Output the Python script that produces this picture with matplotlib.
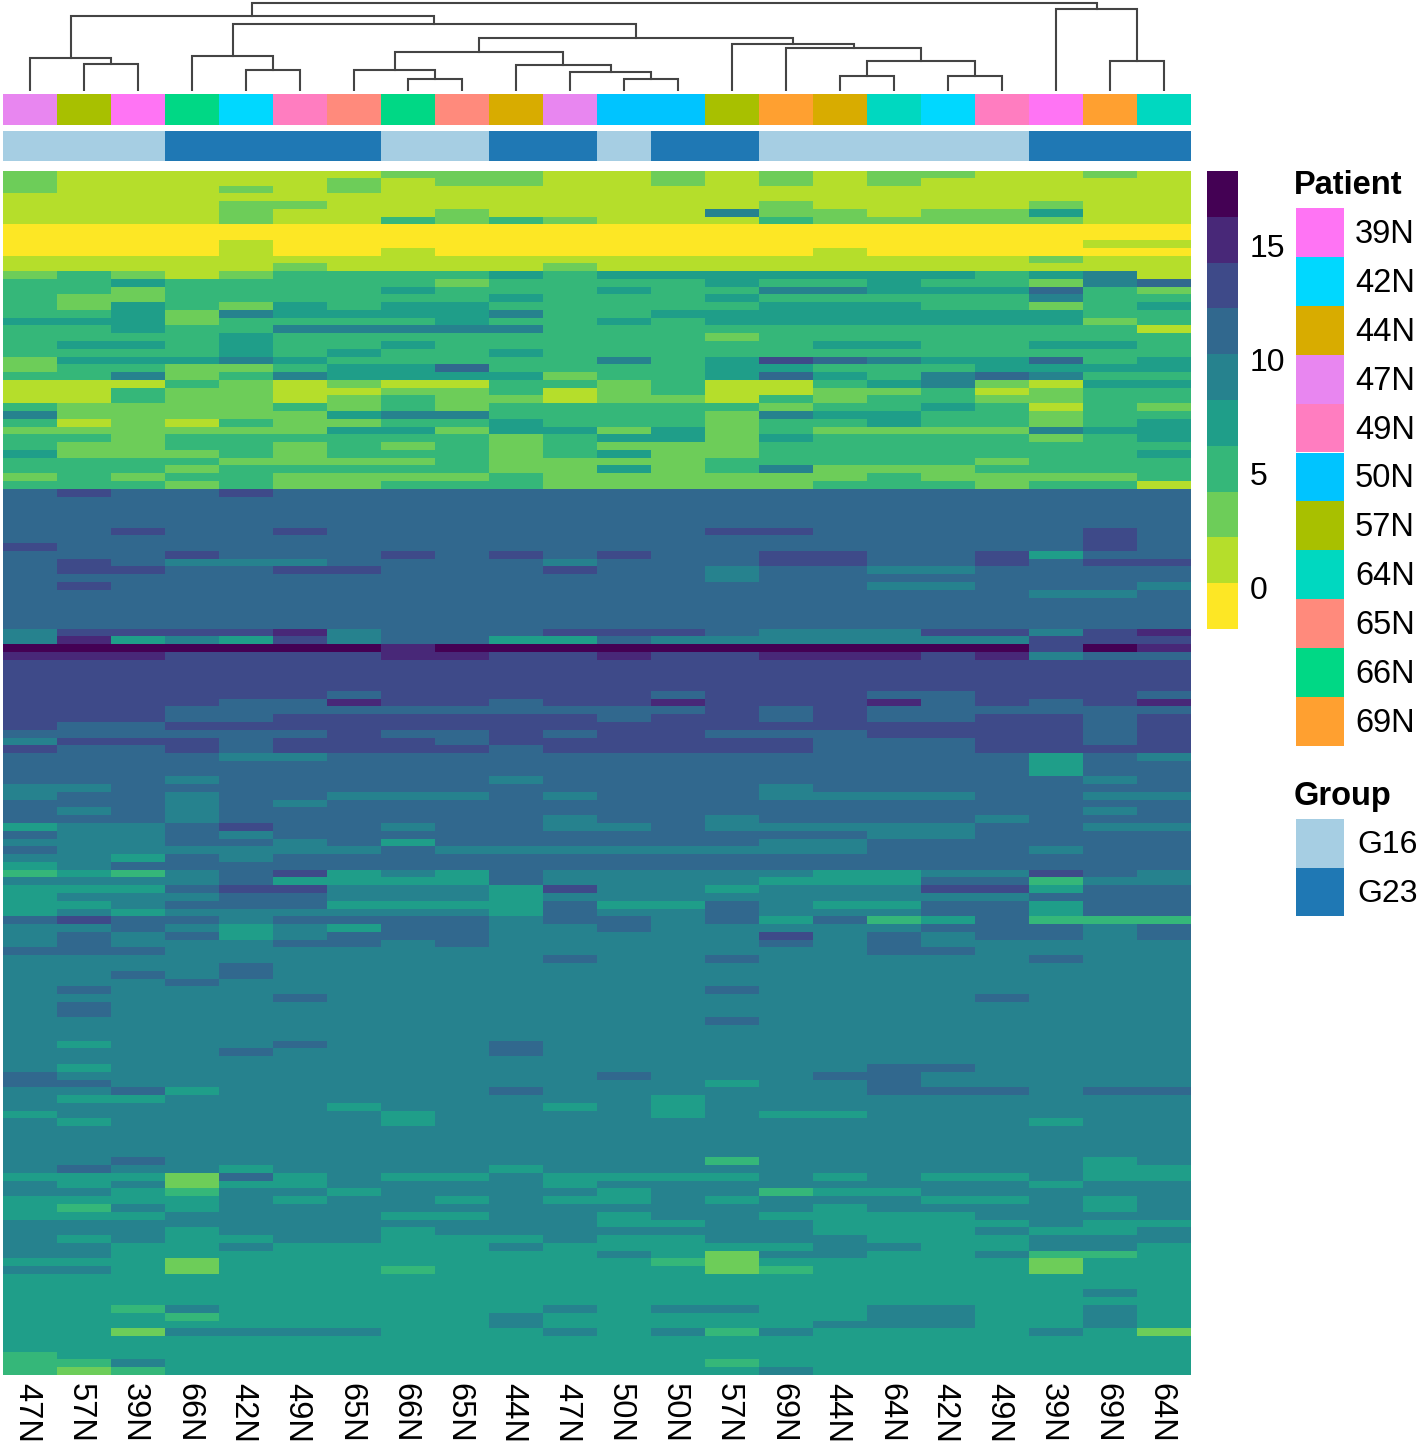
import numpy as np
import matplotlib
matplotlib.use("Agg")
import matplotlib.pyplot as plt
from matplotlib.colors import ListedColormap, BoundaryNorm
from matplotlib.colorbar import ColorbarBase
from matplotlib.patches import Rectangle
from matplotlib.transforms import ScaledTranslation

plt.rcParams["font.family"] = ["Liberation Sans", "DejaVu Sans"]

samples = ["47N", "57N", "39N", "66N", "42N", "49N", "65N", "66N", "65N", "44N", "47N",
           "50N", "50N", "57N", "69N", "44N", "64N", "42N", "49N", "39N", "69N", "64N"]
groups = ["G16", "G16", "G16", "G23", "G23", "G23", "G23", "G16", "G16", "G23", "G23",
          "G16", "G23", "G23", "G16", "G16", "G16", "G16", "G16", "G23", "G23", "G23"]

patient_names = ["39N", "42N", "44N", "47N", "49N", "50N", "57N", "64N", "65N", "66N", "69N"]
patient_colors = ["#FF74F4", "#00D8FF", "#D8AC00", "#E886F0", "#FF7DC0", "#00C4FF",
                  "#A8C000", "#00D8C0", "#FF8A7C", "#00D885", "#FFA030"]
group_names = ["G16", "G23"]
group_colors = ["#A6CEE3", "#1F78B4"]

level_colors = ["#FDE725", "#B5DE2B", "#6DCD59", "#35B779", "#1F9E89",
                "#26828E", "#31688E", "#3E4A89", "#482878", "#440154"]
level_values = [-0.8, 1.2, 3.2, 5.2, 7.2, 9.2, 11.2, 13.2, 15.2, 17.2]
level_bounds = [-1.84, 0.17, 2.18, 4.19, 6.2, 8.2, 10.21, 12.22, 14.23, 16.24, 18.25]
bar_ticks = [0, 5, 10, 15]

# one string per gene, one colour class per sample (grouped by five to keep count)
upper_rows = [
    "21111 11222 11212 12211 21", "21111 12122 11212 12111 11", "21112 12111 11111 11111 11",
    "11111 11111 11111 11111 11", "11112 21111 11112 11112 11", "11112 11121 11152 21224 11",
    "11112 11323 21113 22222 11", "00000 00000 00000 00000 00", "00000 00000 00000 00000 00",
    "00001 00000 00000 00000 11", "00001 00100 00000 10000 00", "11111 11111 11111 11112 11",
    "11111 21111 21111 11111 11", "23212 33334 34444 44434 51", "33433 33323 33343 34332 56",
    "33233 33433 34335 54446 32", "32233 33334 33343 33335 33", "32432 43443 33334 44332 34",
    "33425 44445 33444 44444 33", "44423 33343 34344 44444 23", "33433 55555 33333 33333 31",
    "33334 33333 33323 33333 33", "34434 33433 33333 44334 43", "33334 34334 33333 33333 33",
    "24445 43333 35347 65446 34", "23322 34463 33344 33344 44", "33523 54444 23346 43565 33",
    "11132 12113 32311 34521 44", "11322 11223 12311 22312 33", "11322 12322 12213 23322 33",
    "32222 32323 33332 33431 32", "52222 24553 33325 44332 33", "31213 22334 33323 34332 34",
    "22222 24424 42423 22225 44", "33233 33332 34424 33332 34", "32233 23232 32223 33333 33",
    "42223 23332 34223 33333 34", "33332 22232 22233 33323 33", "33323 33332 24235 22233 33",
    "23233 22223 22222 23222 23", "33323 22333 22222 33323 31",
]
middle_rows = [
    "67667 66666 66666 66666 66", "66666 66666 66666 66666 66", "66666 66666 66666 66666 66",
    "66666 66666 66666 66666 66", "66666 66666 66666 66666 66", "66766 76666 66677 66666 76",
    "66666 66666 66666 66666 76", "76666 66666 66666 66666 76", "66676 66767 67667 76674 66",
    "67655 56666 56667 76676 77", "67766 77666 76656 65566 66", "66666 66666 66656 66666 66",
    "67666 66666 66666 65566 65", "66666 66666 66666 66665 56", "66666 66666 66666 66666 66",
    "66666 66666 66666 66666 66", "66666 66666 66666 66666 66", "66666 66666 66666 66666 66",
    "57777 85666 77765 55775 78", "58454 75664 46555 55557 77", "99999 99899 99999 99997 98",
    "88877 77887 78778 88785 66", "77777 77777 77777 77777 77", "77777 77777 77777 77777 77",
    "77777 77777 77777 77777 77", "77777 77777 77777 77777 77", "77777 76777 77677 76677 76",
    "77776 68776 77877 78676 78", "77766 66666 66676 76666 66", "77766 77777 76776 76677 67",
    "76677 77777 77777 77777 67", "66666 67667 67766 67777 67", "57776 77767 77777 66677 67",
    "76676 77776 77777 66677 77", "66665 56666 66666 66664 65", "66666 66666 66666 66664 66",
    "66666 66666 66666 66664 66", "66656 66665 66666 66666 56", "55666 66666 66665 66666 66",
    "56656 65556 56665 55566 55", "66656 56666 66666 66666 66", "65656 66666 66666 66666 56",
    "66656 66666 56656 66656 66", "45567 66566 55655 55566 55", "65565 66666 66666 65566 66",
    "55566 56466 66665 56666 66", "65555 55655 55555 56665 66", "55465 66666 66666 66666 66",
    "45666 66666 66666 66666 66", "34356 74546 55555 44557 65", "55556 44446 55554 44663 55",
    "44467 75554 75545 55774 66", "45556 65554 55555 55556 66", "44566 64444 64465 44664 66",
    "45455 55554 65565 55664 66", "67665 66665 66564 63463 33", "55654 54665 56555 55666 56",
    "56564 56665 55557 56566 56", "56555 66565 55556 56555 55",
]
lower_rows = [
    "66655 55555 55555 56655 55", "55555 55555 65565 55556 55", "55556 55555 55555 55555 55",
    "55656 55555 55555 55555 55", "55565 55555 55555 55555 55", "56555 55555 55565 55555 55",
    "55555 65555 55555 55565 55", "56555 55555 55555 55555 55", "56555 55555 55555 55555 55",
    "55555 55555 55565 55555 55", "55555 55555 55555 55555 55", "55555 55555 55555 55555 55",
    "54555 65556 55555 55555 55", "55556 55556 55555 55555 55", "55555 55555 55555 55555 55",
    "54555 55555 55555 56655 55", "65555 55555 56555 66555 55", "66555 55555 55545 56555 55",
    "55645 55556 55555 56665 66", "54455 55555 55455 55555 55", "55555 54555 45455 55555 55",
    "45555 55455 55454 45555 55", "54555 55455 55555 55554 55", "55555 55555 55555 55555 55",
    "55555 55555 55555 55555 55", "55555 55555 55555 55555 55", "55555 55555 55555 55555 55",
    "55655 55555 55535 55555 45", "56554 55554 55555 55555 44", "44426 45445 44445 45445 44",
    "54524 45555 45555 55554 55", "55435 54555 54553 44555 55", "44445 45545 44545 55445 45",
    "43545 55555 55555 45555 45", "44455 55445 54554 44455 55", "55555 55555 54455 44445 44",
    "55545 55455 55555 44454 45", "54544 55444 54455 54445 55", "55445 44445 44444 55445 54",
    "55444 44444 45425 54453 34", "44424 44444 44324 44442 44", "55424 44344 44423 44442 44",
    "44444 44444 44444 44444 44", "44444 44444 44444 44444 44", "44444 44444 44444 44444 54",
    "44444 44444 44444 44444 44", "44354 44444 54554 45544 54", "44434 44445 44444 45544 54",
    "44444 44445 44444 55544 54", "44255 55444 54535 44445 42", "44444 44444 44444 44444 44",
    "44444 44444 44444 44444 44", "34444 44444 44444 44444 44", "33544 44444 44434 44444 44",
    "32344 44444 44445 44444 44",
]

# merges of the sample tree: left child, right child, height. Ints are samples, strs are nodes
tree_nodes = ["A", "B", "C", "D", "E", "F", "G", "H", "I", "J", "L",
              "M", "N", "O", "P", "Q", "R", "S", "T", "U", "V"]
tree_left = [1, 0, 4, 3, 7, 6, 11, 10, 9, "F", 15, 17, "L", 14, 13, "J", "D", "B", 20, 19, "S"]
tree_right = [2, "A", 5, "C", 8, "E", 12, "G", "H", "I", 16, 18, "M", "N", "O", "P", "Q", "R", 21, "T", "U"]
tree_height = [27, 33, 21, 35, 12, 21, 12, 19, 26, 39, 15, 15, 30, 43, 47, 53, 67, 75, 30, 82, 88]


def px_axes(fig, left, top, right, bottom):
    W, H = 1418.0, 1446.0
    return fig.add_axes([left / W, 1 - bottom / H, (right - left) / W, (bottom - top) / H])


def draw_tree(ax):
    pos = {}
    for name, a, b, h in zip(tree_nodes, tree_left, tree_right, tree_height):
        xa, ya = pos[a] if a in pos else (a + 0.5, 0)
        xb, yb = pos[b] if b in pos else (b + 0.5, 0)
        ax.plot([xa, xa, xb, xb], [ya, h, h, yb], color="#444444", linewidth=1.5,
                solid_joinstyle="miter")
        pos[name] = ((xa + xb) / 2, h)
    ax.set_xlim(0, len(samples))
    ax.set_ylim(0, 90)
    ax.axis("off")


rows = upper_rows + middle_rows + lower_rows
levels = np.array([[int(ch) for ch in row.replace(" ", "")] for row in rows])
values = np.array(level_values)[levels]

cmap = ListedColormap(level_colors)
norm = BoundaryNorm(level_bounds, cmap.N)

fig = plt.figure(figsize=(14.18, 14.46), dpi=100)

ax_tree = px_axes(fig, 3, 1, 1191, 91)
draw_tree(ax_tree)

# annotation strips
ax_patient = px_axes(fig, 3, 94, 1191, 125)
patient_idx = [[patient_names.index(s) for s in samples]]
ax_patient.imshow(patient_idx, aspect="auto", cmap=ListedColormap(patient_colors),
                  vmin=0, vmax=len(patient_names) - 1, interpolation="nearest")
ax_patient.axis("off")

ax_group = px_axes(fig, 3, 131, 1191, 161)
group_idx = [[group_names.index(g) for g in groups]]
ax_group.imshow(group_idx, aspect="auto", cmap=ListedColormap(group_colors),
                vmin=0, vmax=1, interpolation="nearest")
ax_group.axis("off")

# heatmap
ax = px_axes(fig, 3, 171, 1191, 1375)
ax.imshow(values, aspect="auto", cmap=cmap, norm=norm, interpolation="nearest")
ax.set_yticks([])
ax.set_xticks(range(len(samples)))
ax.set_xticklabels(samples, rotation=270, fontsize=23.5, color="black")
ax.tick_params(axis="x", length=0, pad=6)
shift = ScaledTranslation(-3.5 / 100, 0, fig.dpi_scale_trans)
for lbl in ax.get_xticklabels():
    lbl.set_transform(lbl.get_transform() + shift)
for side in ax.spines.values():
    side.set_visible(False)

# colour bar
cax = px_axes(fig, 1207, 171, 1238, 629)
cb = ColorbarBase(cax, cmap=cmap, norm=norm, boundaries=level_bounds,
                  spacing="proportional", ticks=bar_ticks)
cb.outline.set_visible(False)
cb.ax.set_yticklabels([str(t) for t in bar_ticks], fontsize=23)
cb.ax.minorticks_off()
cb.ax.tick_params(which="both", length=0, pad=8.5)

# legends, laid out in pixels
lg = fig.add_axes([0, 0, 1, 1])
lg.set_xlim(0, 1418)
lg.set_ylim(1446, 0)
lg.axis("off")
lg.patch.set_alpha(0)

lg.text(1294, 185, "Patient", fontsize=23.5, fontweight="bold", va="center", ha="left")
box_h = 48.9
for i, (name, col) in enumerate(zip(patient_names, patient_colors)):
    lg.add_patch(Rectangle((1296, 208 + i * box_h), 48, box_h, facecolor=col, edgecolor="none"))
    lg.text(1355, 210 + (i + 0.5) * box_h, name, fontsize=23.5, va="center", ha="left")

lg.text(1294, 797, "Group", fontsize=23.5, fontweight="bold", va="center", ha="left")
for i, (name, col) in enumerate(zip(group_names, group_colors)):
    lg.add_patch(Rectangle((1296, 819 + i * 48.5), 48, 48.5, facecolor=col, edgecolor="none"))
    lg.text(1357, 821 + (i + 0.5) * 48.5, name, fontsize=23, va="center", ha="left")

fig.savefig("out.png", dpi=100)
